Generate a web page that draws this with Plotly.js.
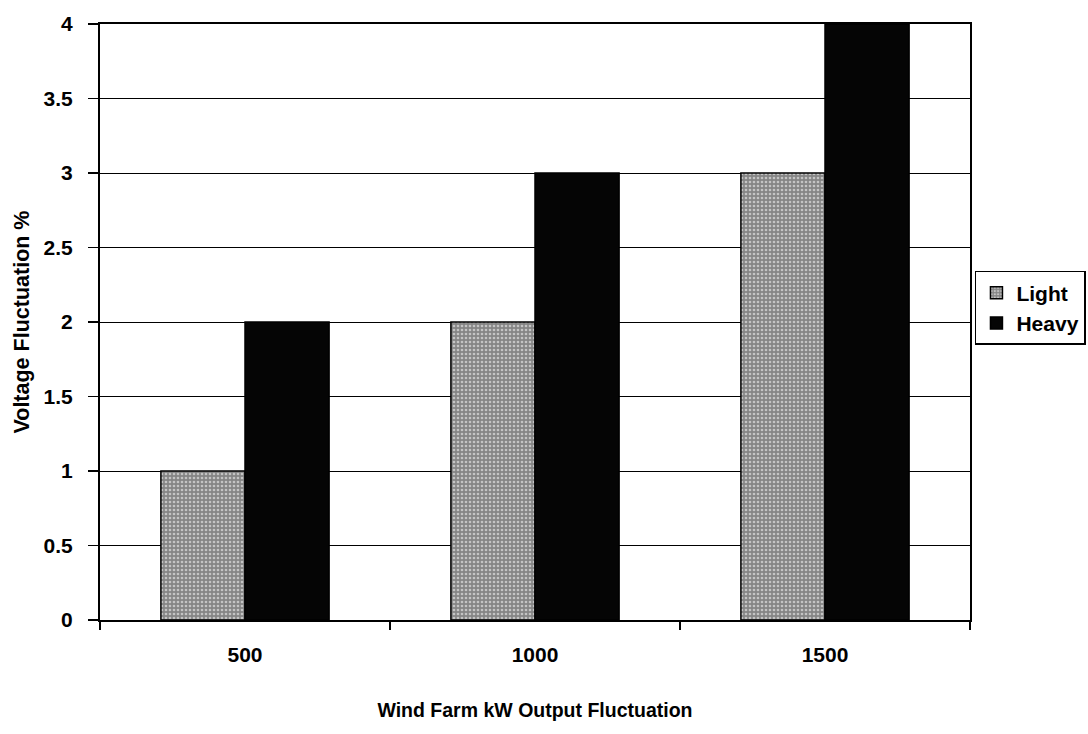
<!DOCTYPE html>
<html>
<head>
<meta charset="utf-8">
<script src="https://cdn.plot.ly/plotly-3.0.1.min.js"></script>
<style>html,body{margin:0;padding:0;background:#fff;}#chart{width:1088px;height:734px;}</style>
</head>
<body>
<div id="chart"></div>
<script>
var categories = ["500", "1000", "1500"];
var lightValues = [1, 2, 3];
var heavyValues = [2, 3, 4];
var seriesNames = ["Light", "Heavy"];
var yTickVals = [0, 0.5, 1, 1.5, 2, 2.5, 3, 3.5, 4];
var yTickText = ["0", "0.5", "1", "1.5", "2", "2.5", "3", "3.5", "4"];

var FONT = "'Liberation Sans', Arial, sans-serif";

var traces = [
  {
    type: "bar", name: seriesNames[0], x: categories, y: lightValues,
    marker: {color: "#999999", line: {color: "#000", width: 1.5},
      pattern: {shape: ".", fgcolor: "#c4c4c4", bgcolor: "#858585", size: 4, solidity: 0.35}}
  },
  {
    type: "bar", name: seriesNames[1], x: categories, y: heavyValues,
    marker: {color: "#050505", line: {color: "#000", width: 1.5}}
  }
];

var layout = {
  width: 1088, height: 734,
  margin: {l: 100, r: 118, t: 24, b: 114, autoexpand: false},
  paper_bgcolor: "#fff", plot_bgcolor: "#fff",
  font: {family: FONT, color: "#000", size: 21, weight: "bold"},
  barmode: "group", bargap: 0.42, bargroupgap: 0,
  showlegend: true,
  legend: {
    x: 1.0057, xanchor: "left", y: 0.5856, yanchor: "top",
    bordercolor: "#000", borderwidth: 1.5, bgcolor: "#fff",
    font: {family: FONT, size: 21, color: "#000", weight: "bold"},
    itemwidth: 30, tracegroupgap: 0
  },
  xaxis: {
    type: "category",
    showline: true, linecolor: "#000", linewidth: 2, mirror: true,
    ticks: "outside", ticklen: 8, tickcolor: "#000", tickwidth: 1.5,
    tickson: "boundaries", ticklabelstandoff: 15,
    showgrid: false, zeroline: false,
    tickfont: {family: FONT, size: 21, color: "#000", weight: "bold"},
    title: {text: "Wind Farm kW Output Fluctuation", font: {family: FONT, size: 19.5, color: "#000", weight: "bold"}, standoff: 38}
  },
  yaxis: {
    range: [0, 4],
    tickvals: yTickVals, ticktext: yTickText,
    showline: true, linecolor: "#000", linewidth: 2, mirror: true,
    ticks: "outside", ticklen: 10, tickcolor: "#000", tickwidth: 1.5,
    ticklabelstandoff: 11,
    showgrid: true, gridcolor: "#000", gridwidth: 1,
    zeroline: false,
    tickfont: {family: FONT, size: 21, color: "#000", weight: "bold"},
    title: {text: "Voltage Fluctuation %", font: {family: FONT, size: 21.5, color: "#000", weight: "bold"}, standoff: 8}
  }
};

Plotly.newPlot("chart", traces, layout, {displayModeBar: false, staticPlot: true});
</script>
</body>
</html>
